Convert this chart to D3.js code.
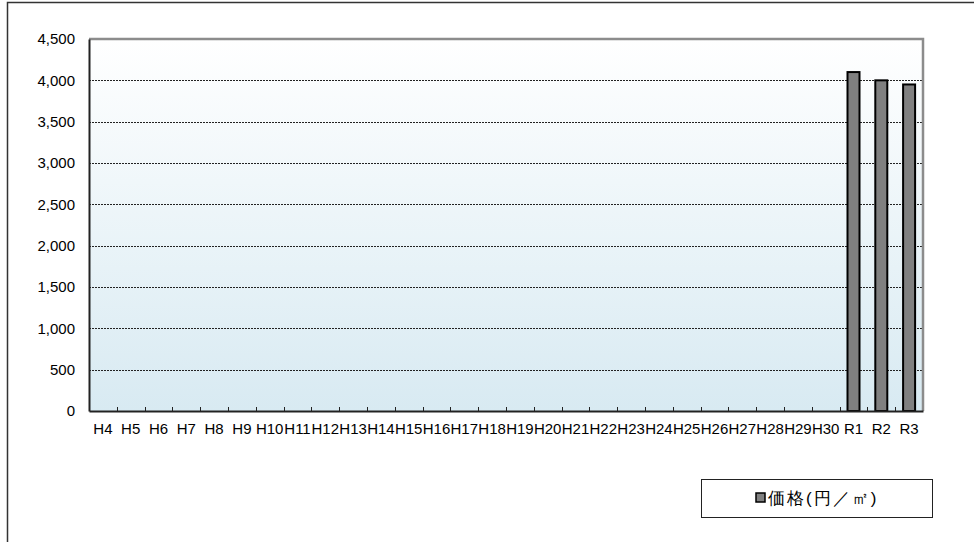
<!DOCTYPE html>
<html>
<head>
<meta charset="utf-8">
<script src="https://cdn.jsdelivr.net/npm/d3@7"></script>
<style>
  body { margin: 0; background: #fff; }
  text { font-family: "Liberation Sans", Arial, sans-serif; }
</style>
</head>
<body>
<div id="chart"></div>
<script>
// categories H4..H30, R1..R3
const categories = ['H4','H5','H6','H7','H8','H9','H10','H11','H12','H13','H14','H15','H16','H17','H18','H19','H20','H21','H22','H23','H24','H25','H26','H27','H28','H29','H30','R1','R2','R3'];
const prices = [null,null,null,null,null,null,null,null,null,null,null,null,null,null,null,null,null,null,null,null,null,null,null,null,null,null,null,4100,4000,3950];
const yTicks = [0,500,1000,1500,2000,2500,3000,3500,4000,4500];
const legendLabel = '価格(円／㎡)';

const width = 974, height = 542;
const plot = { left: 89, top: 39, right: 923, bottom: 411 };

const svg = d3.select('#chart').append('svg')
  .attr('width', width)
  .attr('height', height);

// outer frame
svg.append('rect')
  .attr('x', 7.5).attr('y', 2.5)
  .attr('width', 990).attr('height', 600)
  .attr('fill', 'none').attr('stroke', '#333').attr('stroke-width', 1.5);

const defs = svg.append('defs');
const grad = defs.append('linearGradient')
  .attr('id', 'bg').attr('x1', 0).attr('y1', 0).attr('x2', 0).attr('y2', 1);
grad.append('stop').attr('offset', '0%').attr('stop-color', '#ffffff');
grad.append('stop').attr('offset', '100%').attr('stop-color', '#d8eaf2');

const x = d3.scaleBand()
  .domain(categories)
  .range([plot.left, plot.right]);

const y = d3.scaleLinear()
  .domain([0, 4500])
  .range([plot.bottom, plot.top]);

// plot background
svg.append('rect')
  .attr('x', plot.left).attr('y', plot.top)
  .attr('width', plot.right - plot.left).attr('height', plot.bottom - plot.top)
  .attr('fill', 'url(#bg)');

// grid lines
svg.append('g')
  .selectAll('line')
  .data(yTicks.filter(d => d > 0 && d < 4500))
  .join('line')
  .attr('x1', plot.left).attr('x2', plot.right)
  .attr('y1', d => Math.round(y(d)) + 0.5).attr('y2', d => Math.round(y(d)) + 0.5)
  .attr('stroke', '#222').attr('stroke-width', 1)
  .attr('stroke-dasharray', '2,1');

// top and right border (gray)
svg.append('path')
  .attr('d', `M${plot.left},${plot.top} H${plot.right} V${plot.bottom}`)
  .attr('fill', 'none').attr('stroke', '#8c8c8c').attr('stroke-width', 2.5);

// bars
const barW = 12;
svg.append('g')
  .selectAll('rect')
  .data(categories.map((c, i) => ({ c, v: prices[i] })).filter(d => d.v != null))
  .join('rect')
  .attr('x', d => x(d.c) + x.bandwidth() / 2 - barW / 2)
  .attr('y', d => y(d.v))
  .attr('width', barW)
  .attr('height', d => y(0) - y(d.v))
  .attr('fill', '#808080')
  .attr('stroke', '#000').attr('stroke-width', 2);

// y axis
const yAxis = svg.append('g')
  .attr('transform', `translate(${plot.left},0)`)
  .call(d3.axisLeft(y).tickValues(yTicks).tickSize(0).tickPadding(14)
    .tickFormat(d3.format(',')));
yAxis.select('.domain').attr('stroke', '#222').attr('stroke-width', 2);
yAxis.selectAll('text').attr('font-size', 15).attr('fill', '#000');

// x axis
const xAxis = svg.append('g')
  .attr('transform', `translate(0,${plot.bottom})`)
  .call(d3.axisBottom(x).tickSize(0).tickPadding(12));
xAxis.select('.domain').attr('stroke', '#222').attr('stroke-width', 2);
xAxis.selectAll('text').attr('font-size', 15).attr('fill', '#000');

// inner tick marks at category boundaries
svg.append('g')
  .selectAll('line')
  .data(categories.slice(1))
  .join('line')
  .attr('x1', d => Math.round(x(d)) + 0.5).attr('x2', d => Math.round(x(d)) + 0.5)
  .attr('y1', plot.bottom).attr('y2', plot.bottom - 4)
  .attr('stroke', '#222').attr('stroke-width', 1);

// legend
const lg = svg.append('g').attr('transform', 'translate(701,479)');
lg.append('rect')
  .attr('x', 0.5).attr('y', 0.5).attr('width', 231).attr('height', 38)
  .attr('fill', '#fff').attr('stroke', '#222').attr('stroke-width', 1);
lg.append('rect')
  .attr('x', 55).attr('y', 14).attr('width', 9).attr('height', 9)
  .attr('fill', '#808080').attr('stroke', '#000').attr('stroke-width', 1.5);
lg.append('text')
  .attr('x', 67).attr('y', 25)
  .attr('font-family', '"Noto Sans CJK JP", sans-serif')
  .attr('font-size', 17)
  .attr('letter-spacing', 2)
  .text(legendLabel);
</script>
</body>
</html>
